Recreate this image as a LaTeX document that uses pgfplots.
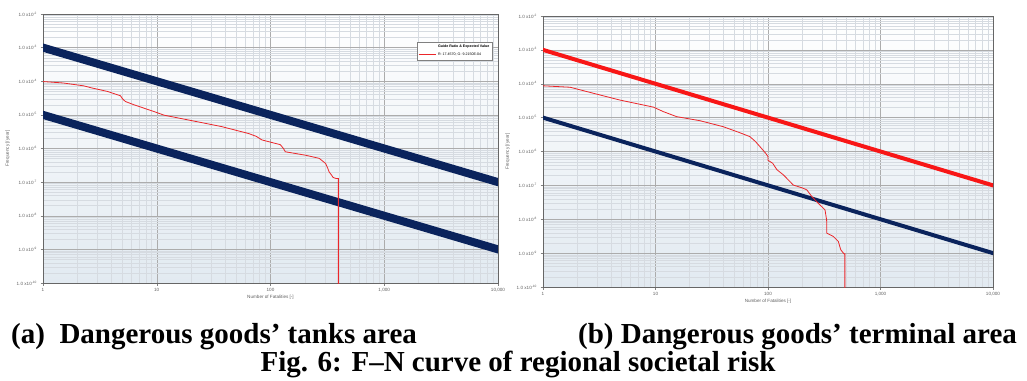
\documentclass[border=0pt]{standalone}
\usepackage{pgfplots}
\pgfplotsset{compat=1.18}
\usepackage{fontspec}
\setmainfont{Liberation Serif}
\newfontfamily\arial{Liberation Sans}
\definecolor{navy}{RGB}{10,35,92}
\definecolor{fnred}{RGB}{235,38,42}
\definecolor{linered}{RGB}{248,22,22}
\definecolor{gridmaj}{RGB}{172,172,172}
\definecolor{gridmin}{RGB}{214,219,225}
\definecolor{bgbot}{RGB}{226,234,241}
\definecolor{labgray}{RGB}{95,95,95}
\pgfplotsset{every axis/.append style={
  scale only axis,
  xmin=1, xmax=10000, ymin=1e-10, ymax=1e-2,
  xtick={1,10,100,1000,10000},
  xticklabels={1,10,100,{1,000},{10,000}},
  minor xtick={2,3,4,5,6,7,8,9,20,30,40,50,60,70,80,90,200,300,400,500,600,700,800,900,2000,3000,4000,5000,6000,7000,8000,9000},
  ytick={1e-10,1e-9,1e-8,1e-7,1e-6,1e-5,1e-4,1e-3,1e-2},
  yticklabels={1.0 x10\textsuperscript{-10},1.0 x10\textsuperscript{-9},1.0 x10\textsuperscript{-8},1.0 x10\textsuperscript{-7},1.0 x10\textsuperscript{-6},1.0 x10\textsuperscript{-5},1.0 x10\textsuperscript{-4},1.0 x10\textsuperscript{-3},1.0 x10\textsuperscript{-2}},
  minor ytick={2e-10,3e-10,4e-10,5e-10,6e-10,7e-10,8e-10,9e-10,
    2e-9,3e-9,4e-9,5e-9,6e-9,7e-9,8e-9,9e-9,
    2e-8,3e-8,4e-8,5e-8,6e-8,7e-8,8e-8,9e-8,
    2e-7,3e-7,4e-7,5e-7,6e-7,7e-7,8e-7,9e-7,
    2e-6,3e-6,4e-6,5e-6,6e-6,7e-6,8e-6,9e-6,
    2e-5,3e-5,4e-5,5e-5,6e-5,7e-5,8e-5,9e-5,
    2e-4,3e-4,4e-4,5e-4,6e-4,7e-4,8e-4,9e-4,
    2e-3,3e-3,4e-3,5e-3,6e-3,7e-3,8e-3,9e-3},
  grid=both,
  major grid style={gridmaj, line width=0.5pt},
  minor grid style={gridmin, line width=0.35pt},
  axis line style={gray!80!black, line width=0.6pt},
  tick style={gray, line width=0.4pt},
  major tick length=2.5pt, minor tick length=0pt,
  tick align=outside, xtick pos=bottom, ytick pos=left,
  xticklabel style={font=\arial\fontsize{4.6}{5}\selectfont, text=labgray, yshift=1pt},
  yticklabel style={font=\arial\fontsize{4.6}{5}\selectfont, text=labgray},
  every axis label/.append style={font=\arial\fontsize{4.6}{5}\selectfont, text=labgray},
  xlabel style={yshift=4pt},
  axis background/.style={shade, top color=white, bottom color=bgbot},
  xlabel={Number of Fatalities [-]}, ylabel={Frequency [/year]},
}}
\begin{document}
\begin{tikzpicture}[x=1pt,y=1pt]
\path[use as bounding box] (0,0) rectangle (1027,-380);
% ---------- (a) ----------
\begin{loglogaxis}[at={(43pt,-283pt)}, anchor=south west,
  width=455pt, height=269pt,
  legend style={at={(rel axis cs:0.988,0.896)}, anchor=north east,
    draw=gray, fill=white, font=\arial\fontsize{3.6}{4}\selectfont,
    inner sep=1pt, row sep=-0.5pt},
  legend cell align=left]
\addplot[navy, line width=8pt, forget plot] coordinates {(0.5,2e-3) (20000,5e-8)};
\addplot[navy, line width=8pt, forget plot] coordinates {(0.5,2e-5) (20000,5e-10)};
\addlegendimage{empty legend}
\addlegendentry{\textbf{Guide Ratio \& Expected Value}}
\addplot[fnred, line width=0.8pt] coordinates {
 (1,9.8e-5) (1.5,8.9e-5) (2.28,7.3e-5) (2.7,6.3e-5) (3.67,5.0e-5) (4.8,3.7e-5)
 (5.0,3.0e-5) (5.3,2.5e-5) (6.3,2.0e-5) (9.5,1.25e-5) (11.6,9.8e-6) (18.8,7.1e-6)
 (37,4.5e-6) (64,2.8e-6) (75,2.3e-6) (84,1.8e-6) (122,1.3e-6) (130,1.0e-6)
 (135,8.0e-7) (204,6.3e-7) (268,5.1e-7) (305,3.6e-7) (320,2.5e-7) (327,2.04e-7)
 (345,1.6e-7) (355,1.38e-7) (375,1.29e-7) (395,1.29e-7) (395,1e-11)};
\addlegendentry{R: 17.4570; G: 9.2150E-04}
\end{loglogaxis}
% ---------- (b) ----------
\begin{loglogaxis}[at={(543pt,-287pt)}, anchor=south west,
  width=450pt, height=271pt]
\addplot[linered, line width=4pt] coordinates {(0.5,2e-3) (20000,5e-8)};
\addplot[navy, line width=4pt] coordinates {(0.5,2e-5) (20000,5e-10)};
\addplot[fnred, line width=0.8pt] coordinates {
 (1,8.7e-5) (1.74,7.9e-5) (2.44,5.9e-5) (3.44,4.4e-5) (4.83,3.3e-5)
 (9.6,2.04e-5) (11.7,1.51e-5) (15.4,1.07e-5) (24.9,8.1e-6) (40,5.4e-6)
 (56,3.6e-6) (69,2.75e-6) (77,2.0e-6) (85,1.38e-6) (95,9e-7) (100,7.1e-7)
 (100,5.5e-7) (110,4.5e-7) (120,2.9e-7) (137,2.04e-7) (150,1.5e-7) (168,1.02e-7)
 (200,8.5e-8) (221,7.4e-8) (245,4.7e-8) (280,2.95e-8) (321,1.9e-8) (332,9.5e-9)
 (333,3.9e-9) (381,3.1e-9) (422,2.2e-9) (443,1.26e-9) (474,9.5e-10)
 (482,9.5e-10) (482,1e-11)};
\end{loglogaxis}
% ---------- captions ----------
\node[anchor=base west, inner sep=0pt, font=\fontsize{29}{32}\selectfont\bfseries] at (11,-343) {(a)\ \ Dangerous goods’ tanks area};
\node[anchor=base west, inner sep=0pt, font=\fontsize{29}{32}\selectfont\bfseries] at (578,-343) {(b) Dangerous goods’ terminal area};
\node[anchor=base, inner sep=0pt, font=\fontsize{29}{32}\selectfont\bfseries] at (518,-371) {Fig. 6: F–N curve of regional societal risk};
\end{tikzpicture}
\end{document}
